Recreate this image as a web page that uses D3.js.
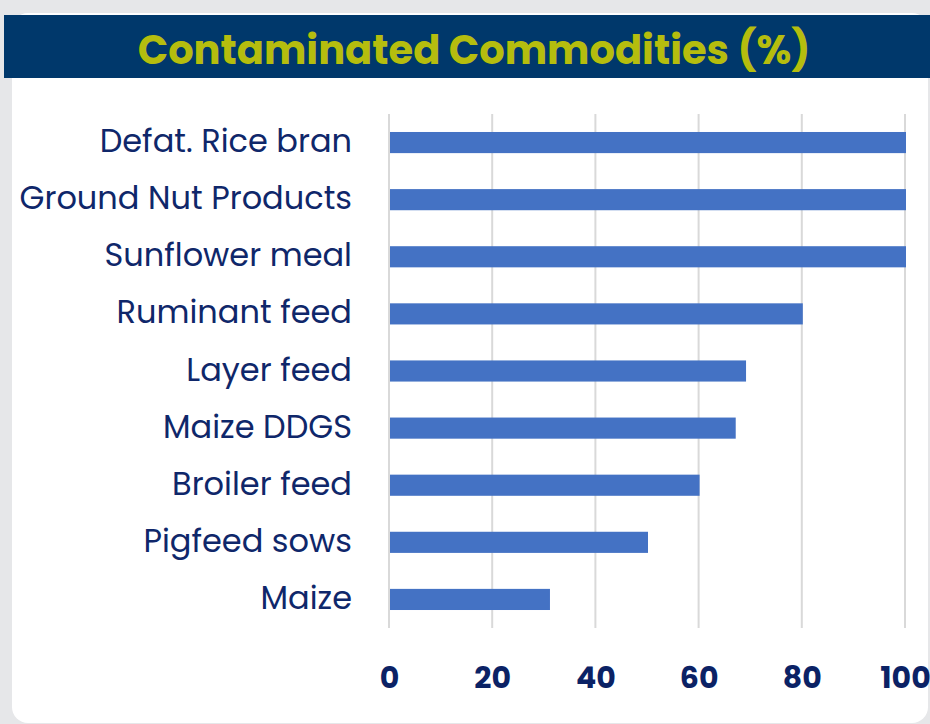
<!DOCTYPE html>
<html>
<head>
<meta charset="utf-8">
<script src="https://cdn.jsdelivr.net/npm/d3@7"></script>
<style>
  html, body { margin: 0; padding: 0; background: #e6e7e9; overflow: hidden; }
  svg { display: block; }
</style>
</head>
<body>
<svg id="chart" width="930" height="724"></svg>
<script>
const title = "Contaminated Commodities (%)";
const categories = ["Defat. Rice bran", "Ground Nut Products", "Sunflower meal", "Ruminant feed", "Layer feed", "Maize DDGS", "Broiler feed", "Pigfeed sows", "Maize"];
const values = [100, 100, 100, 80, 69, 67, 60, 50, 31];
const tickValues = [0, 20, 40, 60, 80, 100];

const svg = d3.select("#chart");
const W = 930, H = 724;

// background panel
svg.append("rect").attr("x", 0).attr("y", 0).attr("width", W).attr("height", H).attr("fill", "#e6e7e9");
svg.append("rect").attr("x", 12).attr("y", 13).attr("width", 916).attr("height", 710)
  .attr("rx", 16).attr("fill", "#ffffff");
// header band
svg.append("rect").attr("x", 4).attr("y", 15).attr("width", W).attr("height", 63).attr("fill", "#00386b");
svg.append("text").attr("x", 474).attr("y", 53).attr("text-anchor", "middle")
  .attr("dominant-baseline", "middle")
  .attr("font-family", "'Poppins', 'Noto Sans', 'Open Sans', sans-serif")
  .attr("font-weight", 700).attr("font-size", 40).attr("fill", "#b5bd0e")
  .text(title);

const x = d3.scaleLinear().domain([0, 100]).range([389, 905]);
const y = d3.scaleBand().domain(categories).range([114, 628]).paddingInner(0.63).paddingOuter(0.315);

// gridlines
svg.append("g").selectAll("line").data(tickValues).join("line")
  .attr("x1", d => x(d)).attr("x2", d => x(d))
  .attr("y1", 114).attr("y2", 628)
  .attr("stroke", "#d9d9d9").attr("stroke-width", 2);

// bars
svg.append("g").selectAll("rect").data(values).join("rect")
  .attr("x", x(0) + 1)
  .attr("y", (d, i) => y(categories[i]))
  .attr("width", d => x(d) - x(0))
  .attr("height", y.bandwidth())
  .attr("fill", "#4472c4");

// category labels
svg.append("g").selectAll("text").data(categories).join("text")
  .attr("x", 352)
  .attr("y", d => y(d) + y.bandwidth() / 2 - 2)
  .attr("text-anchor", "end")
  .attr("dominant-baseline", "central")
  .attr("font-family", "'Poppins', 'Noto Sans', 'Open Sans', sans-serif")
  .attr("font-size", 32).attr("fill", "#0f276a")
  .text(d => d);

// x tick labels
const xAxis = d3.axisBottom(x).tickValues(tickValues).tickSize(0).tickPadding(0).tickFormat(d3.format("d"));
const gx = svg.append("g").attr("transform", "translate(0,677)").call(xAxis);
gx.select(".domain").remove();
gx.selectAll("text")
  .attr("dy", null).attr("y", 0)
  .attr("dominant-baseline", "central")
  .attr("font-family", "'Poppins', 'Noto Sans', 'Open Sans', sans-serif")
  .attr("font-weight", 700).attr("font-size", 30).attr("fill", "#0b2265");
</script>
</body>
</html>
